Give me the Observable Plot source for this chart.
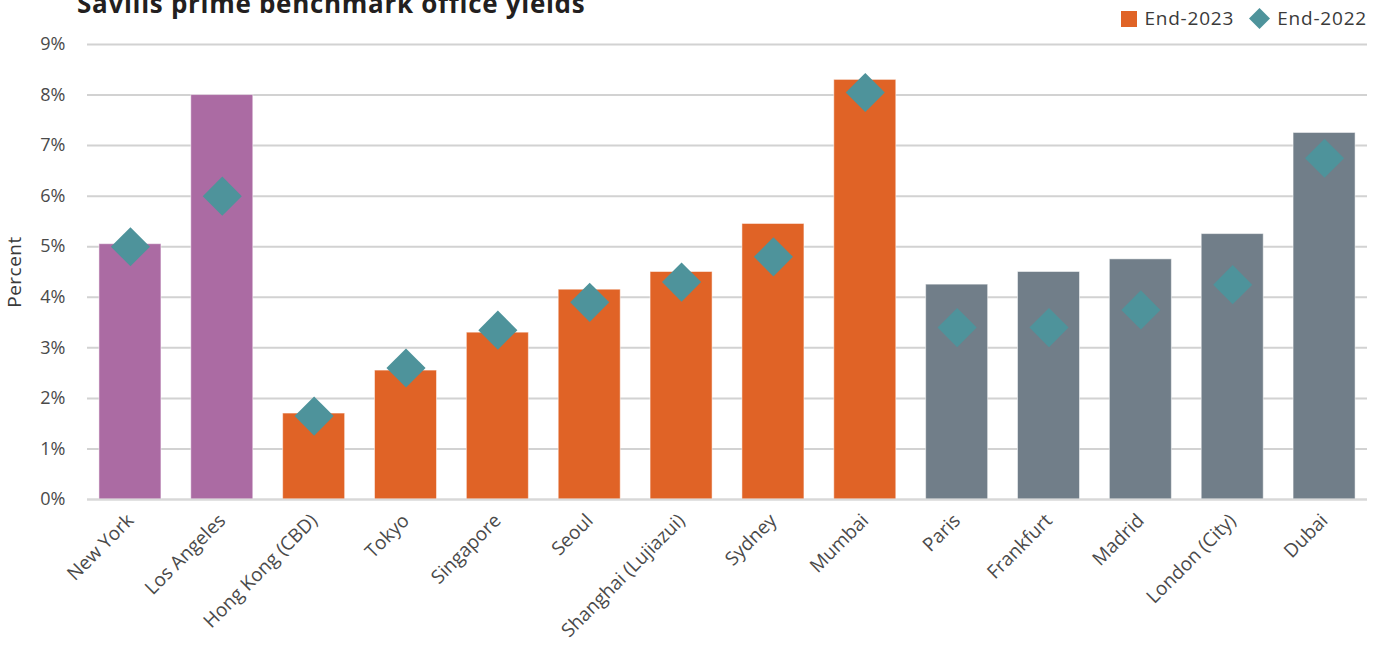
<!DOCTYPE html>
<html>
<head>
<meta charset="utf-8">
<script src="https://cdn.jsdelivr.net/npm/d3@7"></script>
<script src="https://cdn.jsdelivr.net/npm/@observablehq/plot@0.6"></script>
<style>
  html, body { margin: 0; padding: 0; background: #fff; overflow: hidden; }
  #wrap { position: relative; width: 1384px; height: 649px; font-family: "Open Sans", sans-serif; }
  #title { position: absolute; left: 77px; top: -10px; font-size: 26px; line-height: 26px; letter-spacing: 0.7px; font-weight: 700; color: #231f20; white-space: nowrap; z-index: 2; }
  #legend { position: absolute; right: 17px; top: 8px; display: flex; align-items: center; font-size: 19px; line-height: 19px; letter-spacing: 0.8px; color: #3a3a3a; z-index: 2; }
  #legend .item { display: flex; align-items: center; margin-left: 15px; }
  #legend svg { margin-right: 7px; }
  #ylabel { position: absolute; left: 14px; top: 272px; transform: translate(-50%, -50%) rotate(-90deg); font-size: 19px; line-height: 19px; letter-spacing: 0.5px; color: #3a3a3a; white-space: nowrap; z-index: 2; }
  #chart { position: absolute; left: 0; top: 0; }
</style>
</head>
<body>
<div id="wrap">
  <div id="chart"></div>
  <div id="title">Savills prime benchmark office yields</div>
  <div id="legend"></div>
  <div id="ylabel">Percent</div>
</div>
<script>
const cities = ["New York", "Los Angeles", "Hong Kong (CBD)", "Tokyo", "Singapore", "Seoul", "Shanghai (Lujiazui)", "Sydney", "Mumbai", "Paris", "Frankfurt", "Madrid", "London (City)", "Dubai"];
const end2023 = [5.05, 8.0, 1.7, 2.55, 3.3, 4.15, 4.5, 5.45, 8.3, 4.25, 4.5, 4.75, 5.25, 7.25];
const end2022 = [5.0, 6.0, 1.65, 2.6, 3.35, 3.9, 4.3, 4.8, 8.05, 3.4, 3.4, 3.75, 4.25, 6.75];
const regions = ["Americas", "Americas", "APAC", "APAC", "APAC", "APAC", "APAC", "APAC", "APAC", "EMEA", "EMEA", "EMEA", "EMEA", "EMEA"];
const regionNames = ["Americas", "APAC", "EMEA"];
const regionColors = ["#ab6ba3", "#e06326", "#717e89"];
const yTicks = [0, 1, 2, 3, 4, 5, 6, 7, 8, 9];
const legendLabels = ["End-2023", "End-2022"];
const diamondColor = "#4e939b";

const data = cities.map((c, i) => ({city: c, y2023: end2023[i], y2022: end2022[i], region: regions[i]}));

const diamond = {
  draw(context, size) {
    const d = Math.sqrt(size / 2);
    context.moveTo(0, -d);
    context.lineTo(d, 0);
    context.lineTo(0, d);
    context.lineTo(-d, 0);
    context.closePath();
  }
};

const chart = Plot.plot({
  width: 1384,
  height: 649,
  marginTop: 44,
  marginBottom: 150,
  marginLeft: 87,
  marginRight: 17,
  style: {fontFamily: "Open Sans, sans-serif", fontSize: "18px", color: "#4a4a4a", background: "#fff"},
  x: {type: "band", domain: cities, range: [84, 1370], paddingInner: 0.325, paddingOuter: 0.1625, round: false},
  y: {domain: [0, 9]},
  color: {domain: regionNames, range: regionColors},
  marks: [
    Plot.ruleY(yTicks, {stroke: "#d2d2d2", strokeWidth: 2}),
    Plot.barY(data, {x: "city", y: "y2023", fill: "region", stroke: "#ffffff", strokeOpacity: 0.5, strokeWidth: 1}),
    Plot.ruleY([0], {stroke: "#d9d9d9", strokeWidth: 2, strokeOpacity: 0.8}),
    Plot.dot(data, {x: "city", y: "y2022", symbol: diamond, r: 15.6, fill: diamondColor, stroke: null}),
    Plot.axisY({ticks: yTicks, tickFormat: d => d + "%", tickSize: 0, tickPadding: 22, label: null, fontSize: 18, style: {letterSpacing: "0.5px"}}),
    Plot.axisX({tickSize: 0, tickRotate: -45, tickPadding: 18, label: null, fontSize: 19, style: {letterSpacing: "1.2px"}})
  ]
});
document.getElementById("chart").appendChild(chart);

const legend = document.getElementById("legend");
legendLabels.forEach((lab, i) => {
  const item = document.createElement("div");
  item.className = "item";
  const svgNS = "http://www.w3.org/2000/svg";
  const s = document.createElementNS(svgNS, "svg");
  if (i === 0) {
    s.setAttribute("width", 16); s.setAttribute("height", 16);
    const r = document.createElementNS(svgNS, "rect");
    r.setAttribute("width", 16); r.setAttribute("height", 16); r.setAttribute("fill", regionColors[1]);
    s.appendChild(r);
  } else {
    s.setAttribute("width", 21); s.setAttribute("height", 21);
    const p = document.createElementNS(svgNS, "path");
    p.setAttribute("d", "M10.5,0L21,10.5L10.5,21L0,10.5Z"); p.setAttribute("fill", diamondColor);
    s.appendChild(p);
  }
  item.appendChild(s);
  const t = document.createElement("span");
  t.textContent = lab;
  item.appendChild(t);
  legend.appendChild(item);
});
</script>
</body>
</html>
